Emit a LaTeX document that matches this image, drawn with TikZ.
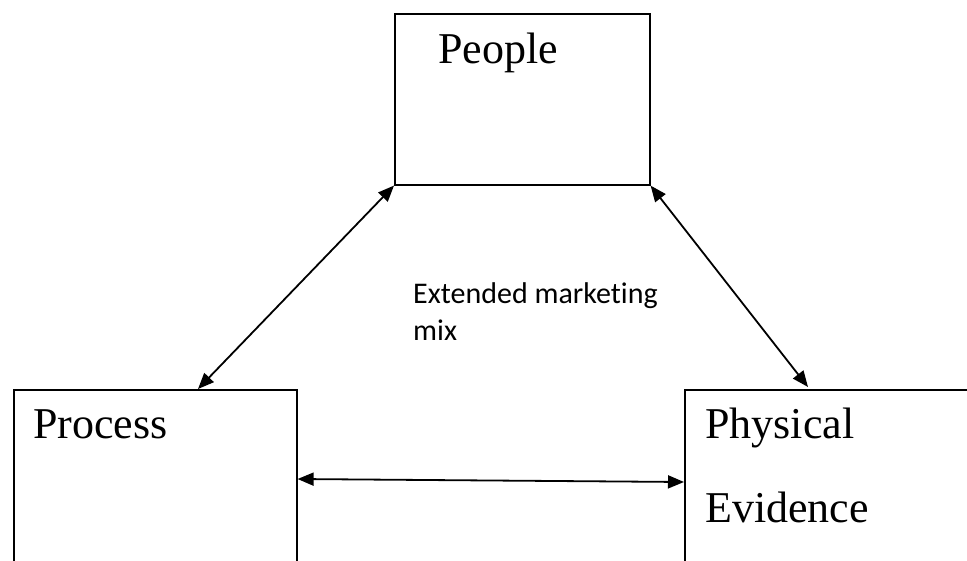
\documentclass[tikz,border=0pt]{standalone}
\usepackage{fontspec}
\setmainfont{Liberation Serif}
\newfontfamily\calibri[Ligatures=NoCommon]{Carlito}
\usetikzlibrary{arrows.meta,calc}

\begin{document}
\begin{tikzpicture}[
    x=1pt, y=-1pt,
    box/.style={draw, line width=1.6pt, inner sep=0pt, anchor=north west},
    title/.style={anchor=base west, inner sep=0pt, font=\fontsize{44}{52}\selectfont},
    note/.style={anchor=base west, inner sep=0pt, font=\calibri\fontsize{30}{36}\selectfont},
    link/.style={{Triangle[length=16pt,width=13pt]}-{Triangle[length=16pt,width=13pt]}, line width=1.8pt}
  ]
  \useasboundingbox (0,0) rectangle (967,560);
  % the three boxes (the lower two run off the page)
  \node[box, minimum width=255pt, minimum height=171pt] (people) at (394,13) {};
  \node[box, minimum width=283pt, minimum height=200pt] (process) at (13,389) {};
  \node[box, minimum width=300pt, minimum height=200pt] (physical) at (684,389) {};
  \node[title] (peopletext) at (438,63) {People};
  \node[title] (processtext) at (33,438) {Process};
  \node[title] (physicaltext) at (705,438) {Physical};
  \node[title] (evidencetext) at (705,522) {Evidence};
  \node[note] (mixtext) at (413,303) {Extended marketing};
  \node[note] (mixtext2) at (413,340) {mix};
  % links
  \draw[link] (people.south west) -- ($(process.north west)+(185,0)$);
  \draw[link] (people.south east) -- ($(physical.north west)+(124,-2)$);
  \draw[link] ($(process.north east)+(0,90)$) -- ($(physical.north west)+(0,93)$);
\end{tikzpicture}
\end{document}
